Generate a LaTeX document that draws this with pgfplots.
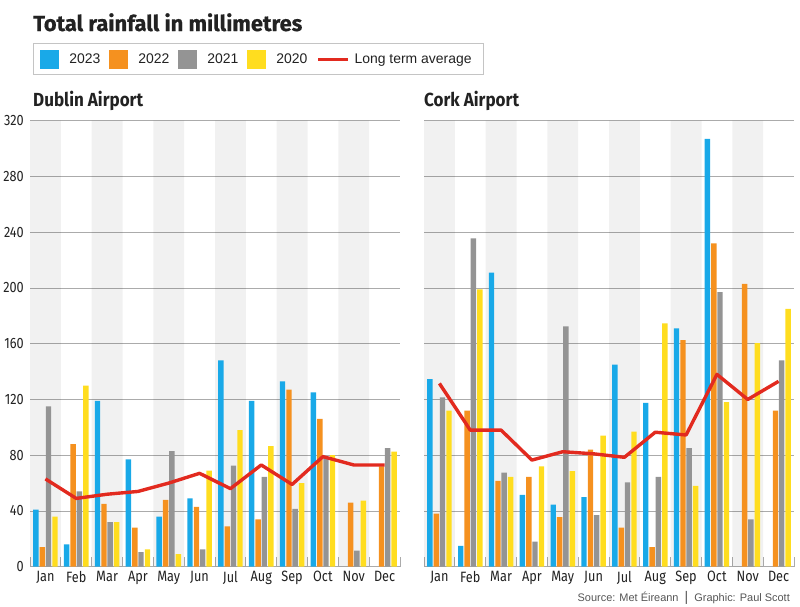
\documentclass[border=0pt]{standalone}
\usepackage{pgfplots}
\pgfplotsset{compat=1.18}
\usepackage{fontspec}
\setmainfont{Liberation Sans}
\newfontfamily\condfont[FakeStretch=0.85]{Fira Sans}
\newfontfamily\subfont[FakeStretch=0.9]{Fira Sans}
\newfontfamily\titlefont{Fira Sans}[BoldFeatures={FakeBold=0.5}]
\definecolor{c23}{HTML}{19A9E8}
\definecolor{c22}{HTML}{F5911F}
\definecolor{c21}{HTML}{949494}
\definecolor{c20}{HTML}{FFDD1F}
\definecolor{cavg}{HTML}{E22A1F}
\definecolor{gridc}{HTML}{ABABAB}
\definecolor{txt}{HTML}{222222}
\definecolor{srcgray}{HTML}{555555}

\pgfplotsset{
  rain/.style={
    scale only axis, width=370bp, height=446bp,
    xmin=-0.5, xmax=11.5, ymin=0, ymax=320,
    axis line style={draw=none},
    xtick={0,...,11},
    xticklabels={Jan,Feb,Mar,Apr,May,Jun,Jul,Aug,Sep,Oct,Nov,Dec},
    minor xtick={-0.5,0.5,...,11.5},
    xtick pos=left,
    ytick={0,40,...,320},
    major tick length=0pt,
    minor tick length=10bp,
    tick align=inside,
    minor tick style={draw=gridc, line width=0.8bp},
    ytick style={draw=none},
    ymajorgrids,
    major grid style={draw=gridc, line width=0.8bp},
    tick label style={font=\condfont\fontsize{15}{15}\selectfont, text=txt},
    /pgf/number format/assume math mode=true,
    yticklabel style={anchor=east, inner sep=0pt, xshift=-6bp},
    xticklabel style={anchor=north, inner sep=0pt, yshift=-4bp},
  },
  bandplot/.style={ybar, bar width=1, bar shift=0, fill=black, fill opacity=0.055, draw=none, forget plot},
  b23/.style={ybar, bar width=0.175, bar shift=-0.31, fill=c23, draw=none,
    legend image code/.code={\fill[c23] (0bp,-9.5bp) rectangle (19bp,9.5bp); \path (24bp,0bp);}},
  b22/.style={ybar, bar width=0.175, bar shift=-0.10, fill=c22, draw=none,
    legend image code/.code={\fill[c22] (0bp,-9.5bp) rectangle (19bp,9.5bp); \path (24bp,0bp);}},
  b21/.style={ybar, bar width=0.175, bar shift=0.10, fill=c21, draw=none,
    legend image code/.code={\fill[c21] (0bp,-9.5bp) rectangle (19bp,9.5bp); \path (24bp,0bp);}},
  b20/.style={ybar, bar width=0.175, bar shift=0.31, fill=c20, draw=none,
    legend image code/.code={\fill[c20] (0bp,-9.5bp) rectangle (19bp,9.5bp); \path (24bp,0bp);}},
  avg/.style={cavg, line width=3.4bp, line join=round, mark=none,
    legend image code/.code={\draw[cavg, line width=3bp] (-4bp,0bp) -- (26bp,0bp);}},
}

\begin{document}
\begin{tikzpicture}

\node[anchor=base west, inner sep=0pt, text=txt] at (33bp,-31bp)
  {\titlefont\bfseries\fontsize{22}{24}\selectfont Total rainfall in millimetres};
\node[anchor=base west, inner sep=0pt, text=txt] at (33bp,-106bp)
  {\subfont\bfseries\fontsize{19}{21}\selectfont Dublin Airport};
\node[anchor=base west, inner sep=0pt, text=txt] at (424bp,-106bp)
  {\subfont\bfseries\fontsize{19}{21}\selectfont Cork Airport};
\node[anchor=base east, inner sep=0pt, text=srcgray] at (790bp,-601bp)
  {\fontsize{11}{13}\selectfont Source: Met Éireann\; {\fontsize{14}{14}\selectfont|}\; Graphic: Paul Scott};

% Dublin Airport
\begin{axis}[rain, at={(30bp,-566.7bp)}, anchor=south west,
  legend columns=-1,
  legend style={at={(0,1)}, anchor=north west, xshift=3bp, yshift=77.5bp,
    draw=gridc!70, line width=0.8bp, inner xsep=7bp, inner ysep=6bp,
    font=\fontsize{14}{16}\selectfont, text=txt,
    /tikz/every even column/.append style={column sep=4bp},
    nodes={inner xsep=5bp, inner ysep=2bp}},
]
\addplot[bandplot] coordinates {(0,320) (2,320) (4,320) (6,320) (8,320) (10,320)};
\addplot[b23] coordinates {(0,41) (1,16) (2,119) (3,77) (4,36) (5,49) (6,148) (7,119) (8,133) (9,125)};
\addplot[b22] coordinates {(0,14) (1,88) (2,45) (3,28) (4,48) (5,43) (6,29) (7,34) (8,127) (9,106) (10,46) (11,72)};
\addplot[b21] coordinates {(0,115) (1,54) (2,32) (3,10.5) (4,83) (5,12.5) (6,72.5) (7,64.5) (8,41.5) (9,78) (10,11.5) (11,85)};
\addplot[b20] coordinates {(0,36) (1,130) (2,32) (3,12.5) (4,9) (5,69) (6,98) (7,86.5) (8,60) (9,80) (10,47.5) (11,82.5)};
\addplot[avg] coordinates {(0,63) (1,49) (2,52) (3,54) (4,60) (5,67) (6,56) (7,73) (8,59) (9,79) (10,73) (11,73)};
\legend{2023,2022,2021,2020,Long term average}
\end{axis}

% Cork Airport
\begin{axis}[rain, at={(424bp,-566.7bp)}, anchor=south west, yticklabels={}]
\addplot[bandplot] coordinates {(0,320) (2,320) (4,320) (6,320) (8,320) (10,320)};
\addplot[b23] coordinates {(0,134.5) (1,15) (2,211) (3,51.5) (4,44.5) (5,50) (6,145) (7,117.5) (8,171) (9,307)};
\addplot[b22] coordinates {(0,38) (1,112) (2,61.5) (3,64.5) (4,35.5) (5,84) (6,28) (7,14) (8,162.5) (9,232) (10,203) (11,112)};
\addplot[b21] coordinates {(0,121.5) (1,235.5) (2,67.5) (3,18) (4,172.5) (5,37) (6,60.5) (7,64.5) (8,85) (9,197) (10,34) (11,148)};
\addplot[b20] coordinates {(0,112) (1,199) (2,64.5) (3,72) (4,68.5) (5,94) (6,97) (7,174.5) (8,58) (9,118) (10,160.5) (11,185)};
\addplot[avg] coordinates {(0,131.5) (1,98) (2,98) (3,76.5) (4,82.5) (5,81) (6,78.5) (7,96.5) (8,94.5) (9,138) (10,120) (11,133)};
\end{axis}

\path[use as bounding box] (0,0) rectangle (800bp,-607bp);
\end{tikzpicture}
\end{document}
